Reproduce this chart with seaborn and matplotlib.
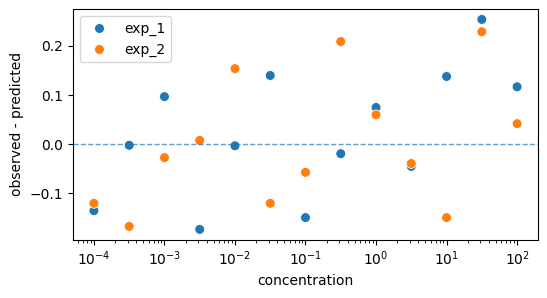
import numpy as np
import pandas as pd
import seaborn as sns
import matplotlib
matplotlib.use("Agg")
import matplotlib.pyplot as plt

concentration = [1e-4, 10**-3.5, 1e-3, 10**-2.5, 1e-2, 10**-1.5, 1e-1,
                 10**-0.5, 1e0, 10**0.5, 1e1, 10**1.5, 1e2]
exp_1 = [-0.135, -0.002, 0.097, -0.173, -0.003, 0.140, -0.149,
         -0.019, 0.075, -0.045, 0.138, 0.254, 0.117]
exp_2 = [-0.120, -0.167, -0.027, 0.008, 0.154, -0.120, -0.057,
         0.209, 0.060, -0.039, -0.149, 0.229, 0.042]

df = pd.DataFrame({"concentration": concentration + concentration,
                   "resid": exp_1 + exp_2,
                   "exp": ["exp_1"] * len(exp_1) + ["exp_2"] * len(exp_2)})

fig, ax = plt.subplots(figsize=(5.47, 2.98), dpi=100)
sns.scatterplot(data=df, x="concentration", y="resid", hue="exp",
                palette=["#1f77b4", "#ff7f0e"], s=50, ax=ax)
ax.axhline(0, color="#1f77b4", alpha=0.7, linestyle="--", linewidth=1)
ax.set_xscale("log")
ax.set_xlabel("concentration")
ax.set_ylabel("observed - predicted")
ax.legend(title=None, loc="upper left")
plt.subplots_adjust(left=0.133, right=0.984, top=0.970, bottom=0.195)
plt.savefig("out.png")
